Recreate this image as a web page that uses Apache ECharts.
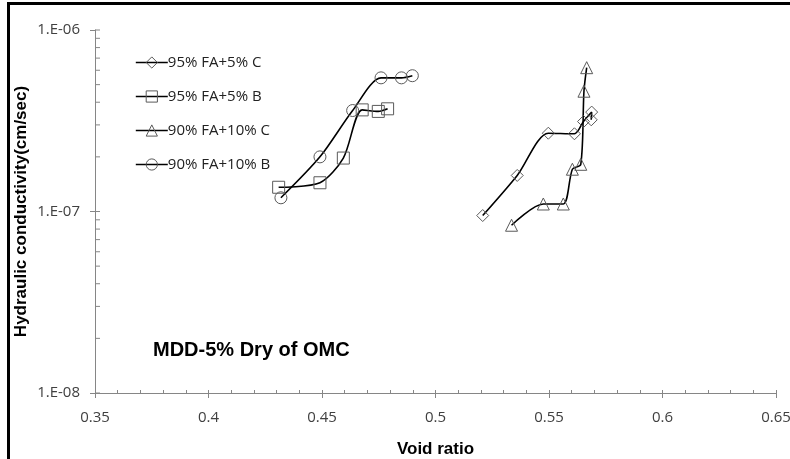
<!DOCTYPE html>
<html>
<head>
<meta charset="utf-8">
<script src="https://cdn.jsdelivr.net/npm/echarts@6/dist/echarts.min.js"></script>
<style>
  html, body { margin: 0; padding: 0; background: #fff; }
  #chart { width: 790px; height: 459px; }
</style>
</head>
<body>
<div id="chart"></div>
<script>
// Void ratio (x) vs hydraulic conductivity (y, cm/sec) for each mix
const seriesNames = ['95% FA+5% C', '95% FA+5% B', '90% FA+10% C', '90% FA+10% B'];

const fa95c5X = [0.5208, 0.5360, 0.5497, 0.5612, 0.5652, 0.5688, 0.5686];
const fa95c5Y = [9.5e-8, 1.58e-7, 2.70e-7, 2.68e-7, 3.13e-7, 3.53e-7, 3.20e-7];

const fa95b5X = [0.4309, 0.4491, 0.4594, 0.4677, 0.4748, 0.4789];
const fa95b5Y = [1.36e-7, 1.44e-7, 1.97e-7, 3.63e-7, 3.56e-7, 3.68e-7];

const fa90c10X = [0.5335, 0.5475, 0.5563, 0.5603, 0.5640, 0.5654, 0.5666];
const fa90c10Y = [8.4e-8, 1.10e-7, 1.10e-7, 1.71e-7, 1.82e-7, 4.6e-7, 6.2e-7];

const fa90b10X = [0.4319, 0.4491, 0.4635, 0.4760, 0.4850, 0.4898];
const fa90b10Y = [1.19e-7, 2.00e-7, 3.60e-7, 5.45e-7, 5.45e-7, 5.60e-7];

// Axis ranges and tick values
const xMin = 0.35, xMax = 0.65, xStep = 0.05;
const yMin = 1e-8, yMax = 1e-6;
const yTickValues = [];
for (const decade of [1e-8, 1e-7]) {
  for (let m = 1; m <= 9; m++) yTickValues.push(m * decade);
}
yTickValues.push(1e-6);

const note = 'MDD-5% Dry of OMC';

const pairs = (xs, ys) => xs.map((x, i) => [x, ys[i]]);

const axisGray = '#868686';
const markerGray = '#5a5a5a';
const labelColor = '#404040';
const baseFont = 'Open Sans';
const boldFont = 'Liberation Sans';

const chart = echarts.init(document.getElementById('chart'), null, { renderer: 'canvas' });

function lineSeries(name, data, symbol) {
  return {
    name: name,
    type: 'line',
    data: data,
    smooth: 0.28,
    symbol: symbol,
    symbolSize: 12,
    showSymbol: true,
    z: 3,
    lineStyle: { color: '#000', width: 1.6 },
    itemStyle: { color: 'rgba(0,0,0,0)', borderColor: markerGray, borderWidth: 1 },
    emphasis: { disabled: true }
  };
}

const option = {
  animation: false,
  backgroundColor: '#fff',
  grid: { left: 95, right: 14, top: 30, bottom: 66, containLabel: false, outerBoundsMode: 'none' },
  legend: {
    data: seriesNames,
    orient: 'vertical',
    left: 130,
    top: 50,
    itemWidth: 32,
    itemHeight: 14,
    itemGap: 19,
    selectedMode: false,
    itemStyle: { color: 'rgba(0,0,0,0)', borderColor: markerGray, borderWidth: 1 },
    lineStyle: { color: '#000', width: 1.6 },
    textStyle: { fontFamily: baseFont, fontSize: 15, color: '#222', padding: [0, 0, 0, -5] }
  },
  xAxis: [
    {
      type: 'value',
      min: xMin, max: xMax, interval: xStep,
      name: 'Void ratio',
      nameLocation: 'middle',
      nameGap: 48,
      nameTextStyle: { fontFamily: boldFont, fontWeight: 'bold', fontSize: 17, color: '#000' },
      axisLine: { show: true, onZero: false, lineStyle: { color: axisGray, width: 1 } },
      axisTick: { show: true, inside: true, length: 3, lineStyle: { color: axisGray } },
      minorTick: { show: true, splitNumber: 5, length: 3, lineStyle: { color: axisGray } },
      splitLine: { show: false },
      axisLabel: {
        margin: 17,
        fontFamily: baseFont, fontSize: 15, color: labelColor,
        formatter: v => String(parseFloat(v.toFixed(2)))
      }
    },
    {
      type: 'value',
      position: 'bottom',
      min: xMin, max: xMax, interval: xStep,
      axisLine: { show: false, onZero: false },
      axisTick: { show: true, inside: false, length: 5, lineStyle: { color: axisGray } },
      axisLabel: { show: false },
      splitLine: { show: false }
    }
  ],
  yAxis: {
    type: 'log',
    logBase: 10,
    min: yMin, max: yMax,
    name: 'Hydraulic conductivity(cm/sec)',
    nameLocation: 'middle',
    nameGap: 65,
    nameMoveOverlap: false,
    nameTextStyle: { fontFamily: boldFont, fontWeight: 'bold', fontSize: 17, color: '#000' },
    axisLine: { show: true, lineStyle: { color: axisGray, width: 1 } },
    axisTick: { show: true, inside: false, length: 5, lineStyle: { color: axisGray } },
    splitLine: { show: false },
    axisLabel: {
      margin: 15,
      fontFamily: baseFont, fontSize: 15, color: labelColor,
      formatter: v => {
        const e = Math.round(Math.log10(v));
        const s = Math.abs(e) < 10 ? '0' + Math.abs(e) : String(Math.abs(e));
        return '1.E' + (e < 0 ? '-' : '+') + s;
      }
    }
  },
  series: [
    lineSeries(seriesNames[0], pairs(fa95c5X, fa95c5Y), 'diamond'),
    lineSeries(seriesNames[1], pairs(fa95b5X, fa95b5Y), 'rect'),
    lineSeries(seriesNames[2], pairs(fa90c10X, fa90c10Y), 'triangle'),
    lineSeries(seriesNames[3], pairs(fa90b10X, fa90b10Y), 'circle'),
    {
      // inward ticks on the log axis at 1..9 of every decade
      name: 'yTicks',
      type: 'custom',
      silent: true,
      clip: false,
      z: 1,
      data: yTickValues.map(v => [xMin, v]),
      encode: { x: 0, y: 1 },
      renderItem: function (params, api) {
        const p = api.coord([api.value(0), api.value(1)]);
        return {
          type: 'line',
          shape: { x1: p[0], y1: p[1], x2: p[0] + 5, y2: p[1] },
          style: { stroke: axisGray, lineWidth: 1 }
        };
      }
    }
  ],
  graphic: [
    {
      type: 'text',
      left: 153,
      top: 340,
      style: { text: note, fontFamily: boldFont, fontWeight: 'bold', fontSize: 20, fill: '#000' }
    },
    { type: 'rect', shape: { x: 8, y: 2, width: 782, height: 3 }, style: { fill: '#000' }, silent: true },
    { type: 'rect', shape: { x: 7, y: 2, width: 3, height: 457 }, style: { fill: '#000' }, silent: true }
  ]
};

chart.setOption(option);
</script>
</body>
</html>
